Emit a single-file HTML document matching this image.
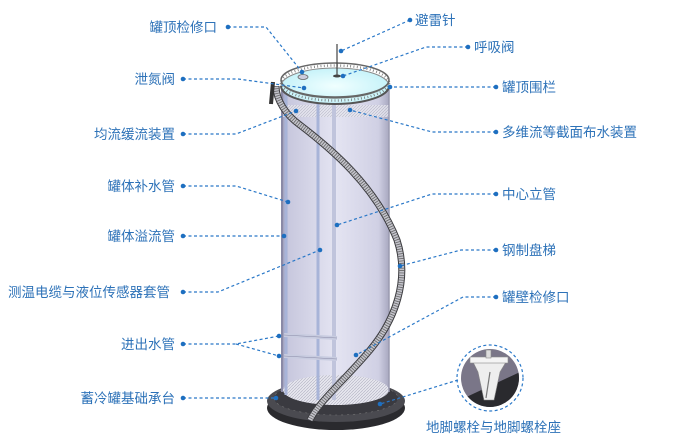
<!DOCTYPE html>
<html><head><meta charset="utf-8"><style>
html,body{margin:0;padding:0;background:#fff;width:674px;height:443px;overflow:hidden}
text{font-family:"Liberation Sans","Noto Sans CJK SC",sans-serif;font-size:13.5px;fill:#2d72b8}
</style></head><body>
<svg width="674" height="443" viewBox="0 0 674 443" xmlns="http://www.w3.org/2000/svg">
<defs>
<linearGradient id="body" x1="0" x2="1" y1="0" y2="0">
<stop offset="0" stop-color="#9a9ab8"/><stop offset="0.06" stop-color="#c8c8de"/>
<stop offset="0.5" stop-color="#e4e4f2"/><stop offset="0.9" stop-color="#d0d0e4"/><stop offset="1" stop-color="#a8a8c0"/>
</linearGradient>
<radialGradient id="water" cx="0.5" cy="0.5" r="0.6"><stop offset="0" stop-color="#f0ffff"/><stop offset="1" stop-color="#bff0f8"/></radialGradient>
<pattern id="hatch" width="3" height="3" patternUnits="userSpaceOnUse"><rect width="3" height="3" fill="#e6e6ee"/><path d="M0 3L3 0" stroke="#b0b0c0" stroke-width="0.6"/></pattern>
</defs>
<!-- base plate -->
<ellipse cx="336" cy="408" rx="69" ry="22" fill="#2a2a2e"/>
<ellipse cx="336" cy="401" rx="69" ry="21" fill="#4a4a50"/>
<ellipse cx="336" cy="398" rx="62" ry="17" fill="#3a3a40" stroke="#777" stroke-width="0.6" stroke-dasharray="2 4"/>
<!-- tank body -->
<rect x="282" y="86" width="107" height="305" fill="url(#body)"/>
<ellipse cx="336" cy="390" rx="53" ry="15" fill="url(#hatch)"/>
<rect x="282" y="105" width="107" height="12" fill="url(#hatch)" opacity="0.8"/>
<line x1="282" y1="86" x2="282" y2="392" stroke="#8a8aa6" stroke-width="2"/>
<line x1="389" y1="86" x2="389" y2="392" stroke="#9a9ab0" stroke-width="1.5"/>
<!-- pipes -->
<line x1="286" y1="95" x2="286" y2="395" stroke="#a8b4d8" stroke-width="3"/>
<line x1="318" y1="102" x2="318" y2="400" stroke="#a8b4d8" stroke-width="3"/>
<line x1="334" y1="102" x2="334" y2="400" stroke="#c0c4dc" stroke-width="4"/>
<line x1="284" y1="335" x2="337" y2="338" stroke="#c8cce0" stroke-width="4"/>
<line x1="284" y1="356" x2="337" y2="359" stroke="#c8cce0" stroke-width="4"/>
<line x1="284" y1="335" x2="337" y2="338" stroke="#8a8aa6" stroke-width="0.6"/>
<line x1="284" y1="356" x2="337" y2="359" stroke="#8a8aa6" stroke-width="0.6"/>
<!-- top -->
<ellipse cx="335" cy="86" rx="54" ry="18" fill="url(#water)" stroke="#888" stroke-width="1"/>
<ellipse cx="335" cy="80" rx="54" ry="17" fill="none" stroke="#666" stroke-width="1.5"/>
<ellipse cx="335" cy="83" rx="54" ry="17.5" fill="none" stroke="#777" stroke-width="2.5" stroke-dasharray="0.8 2.5"/>
<path d="M281 86 A54 18 0 0 0 389 86" fill="none" stroke="#555" stroke-width="2"/>
<path d="M281 80 A54 18 0 0 0 389 80" fill="none" stroke="#666" stroke-width="1.2"/>
<line x1="337" y1="44" x2="337" y2="76" stroke="#444" stroke-width="1.2"/>
<ellipse cx="337" cy="76" rx="4" ry="1.5" fill="#444"/>
<ellipse cx="303" cy="77" rx="5" ry="2.5" fill="#ccd" stroke="#666" stroke-width="0.8"/>
<!-- stairs -->
<path id="st" d="M276 86 C276 100 286 115 300 125 C330 148 375 185 397 240 C410 280 395 320 370 350 C345 380 320 400 310 420" fill="none" stroke="#3a3a3e" stroke-width="7"/>
<path d="M276 86 C276 100 286 115 300 125 C330 148 375 185 397 240 C410 280 395 320 370 350 C345 380 320 400 310 420" fill="none" stroke="#c4c4cc" stroke-width="5"/>
<path d="M276 86 C276 100 286 115 300 125 C330 148 375 185 397 240 C410 280 395 320 370 350 C345 380 320 400 310 420" fill="none" stroke="#666" stroke-width="5" stroke-dasharray="0.8 1.6"/>
<path d="M273 82 L271 104" stroke="#333" stroke-width="4"/>
<!-- leaders -->
<g stroke="#2a78c8" stroke-width="1.2" stroke-dasharray="3 2.5" fill="none">
<polyline points="228,27 266,27 302,72"/>
<polyline points="183,79 238,79 304,88"/>
<polyline points="183,134 236,134 296,111"/>
<polyline points="183,186 236,186 288,202"/>
<polyline points="183,236 284,236"/>
<polyline points="183,292 218,292 320,250"/>
<polyline points="183,344 236,344 279,336"/>
<polyline points="236,344 279,356"/>
<polyline points="183,398 276,398"/>
<polyline points="410,20 341,51"/>
<polyline points="468,47 426,47 343,76"/>
<polyline points="496,87 390,87"/>
<polyline points="496,132 432,132 350,110"/>
<polyline points="496,194 432,194 337,225"/>
<polyline points="496,250 461,250 400,266"/>
<polyline points="496,297 463,297 356,355"/>
<polyline points="458,380 380,404"/>
</g>
<g fill="#1e6fc0">
<circle cx="228" cy="27" r="2.3"/><circle cx="302" cy="72" r="2.3"/>
<circle cx="183" cy="79" r="2.3"/><circle cx="304" cy="88" r="2.3"/>
<circle cx="183" cy="134" r="2.3"/><circle cx="296" cy="111" r="2.3"/>
<circle cx="183" cy="186" r="2.3"/><circle cx="288" cy="202" r="2.3"/>
<circle cx="183" cy="236" r="2.3"/><circle cx="284" cy="236" r="2.3"/>
<circle cx="183" cy="292" r="2.3"/><circle cx="320" cy="250" r="2.3"/>
<circle cx="183" cy="344" r="2.3"/><circle cx="279" cy="336" r="2.3"/><circle cx="279" cy="356" r="2.3"/>
<circle cx="183" cy="398" r="2.3"/><circle cx="276" cy="398" r="2.3"/>
<circle cx="410" cy="20" r="2.3"/><circle cx="341" cy="51" r="2.3"/>
<circle cx="468" cy="47" r="2.3"/><circle cx="343" cy="76" r="2.3"/>
<circle cx="496" cy="87" r="2.3"/><circle cx="390" cy="87" r="2.3"/>
<circle cx="496" cy="132" r="2.3"/><circle cx="350" cy="110" r="2.3"/>
<circle cx="496" cy="194" r="2.3"/><circle cx="337" cy="225" r="2.3"/>
<circle cx="496" cy="250" r="2.3"/><circle cx="400" cy="266" r="2.3"/>
<circle cx="496" cy="297" r="2.3"/><circle cx="356" cy="355" r="2.3"/>
<circle cx="380" cy="404" r="2.3"/>
</g>
<!-- bolt detail -->
<circle cx="490" cy="378" r="33" fill="none" stroke="#2a78c8" stroke-width="1.2" stroke-dasharray="3 2.5"/>
<clipPath id="cc"><circle cx="490" cy="378" r="29"/></clipPath>
<g clip-path="url(#cc)">
<rect x="460" y="348" width="60" height="60" fill="#7a7688"/>
<path d="M460 400 L520 372 L520 410 L460 410Z" fill="#2a2a2e"/>
<path d="M473 362 L506 362 L500 372 L494 400 L484 400 L478 372Z" fill="#eee" stroke="#888" stroke-width="0.6"/>
<rect x="470" y="357" width="38" height="6" fill="#f4f4f4" stroke="#888" stroke-width="0.6"/>
<rect x="486" y="350" width="5" height="8" fill="#ddd" stroke="#888" stroke-width="0.6"/>
<line x1="490" y1="372" x2="486" y2="398" stroke="#777" stroke-width="1.2"/>
</g>
<!-- labels -->
<text x="217" y="32" text-anchor="end">罐顶检修口</text>
<text x="175" y="84" text-anchor="end">泄氮阀</text>
<text x="175" y="139" text-anchor="end">均流缓流装置</text>
<text x="175" y="191" text-anchor="end">罐体补水管</text>
<text x="175" y="241" text-anchor="end">罐体溢流管</text>
<text x="170" y="297" text-anchor="end">测温电缆与液位传感器套管</text>
<text x="175" y="349" text-anchor="end">进出水管</text>
<text x="175" y="403" text-anchor="end">蓄冷罐基础承台</text>
<text x="415" y="25">避雷针</text>
<text x="474" y="52">呼吸阀</text>
<text x="502" y="92">罐顶围栏</text>
<text x="502" y="137">多维流等截面布水装置</text>
<text x="502" y="199">中心立管</text>
<text x="502" y="255">钢制盘梯</text>
<text x="502" y="302">罐壁检修口</text>
<text x="426" y="432">地脚螺栓与地脚螺栓座</text>
</svg>
</body></html>
